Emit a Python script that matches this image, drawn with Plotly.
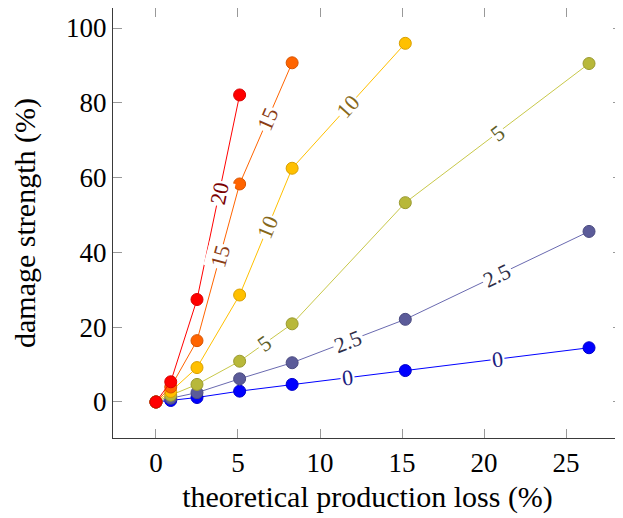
import math
import plotly.graph_objects as go

# ---- data ----
x_loss = [0, 0.9, 2.5, 5.1, 8.3, 15.2, 26.4]
series_names = ["0", "2.5", "5", "10", "15", "20"]
y_0 = [0, 0.4, 1.2, 2.9, 4.7, 8.4, 14.5]
y_2_5 = [0, 1.0, 2.5, 6.2, 10.5, 22.1, 45.6]
y_5 = [0, 1.8, 4.7, 10.9, 20.9, 53.3, 90.5]
y_10 = [0, 2.8, 9.2, 28.6, 62.5, 95.9]
y_15 = [0, 4.0, 16.4, 58.3, 90.7]
y_20 = [0, 5.4, 27.4, 82.1]
label_x = [[11.7, 20.8], [11.7, 20.8], [6.6, 20.8], [6.8, 11.7], [3.9, 6.8], [3.85]]
x_ticks = [0, 5, 10, 15, 20, 25]
y_ticks = [0, 20, 40, 60, 80, 100]

# ---- style ----
line_colors = ["#0000ff", "#6a6ab0", "#c8c84a", "#ffc000", "#ff6400", "#ff0000"]
marker_colors = ["#0000ff", "#5b5b99", "#b8b83a", "#ffc000", "#ff6400", "#ff0000"]
marker_edges = ["#0000cc", "#4a4a80", "#9a9a30", "#d9a000", "#d85400", "#d80000"]
label_colors = ["#1a1a80", "#2e2e48", "#5e5e28", "#86681a", "#8a3c14", "#7a0000"]

OFF = 8  # page body margin
W, H = 623 - OFF, 518 - OFF
ml, mr, mt, mb = 113 - OFF, 1, 8 - OFF, 80
xr = [-2.62, 28.41]
yr = [-9.63, 105.35]
pw = W - ml - mr
ph = H - mt - mb
sx = pw / (xr[1] - xr[0])
sy = ph / (yr[1] - yr[0])

all_y = [y_0, y_2_5, y_5, y_10, y_15, y_20]

fig = go.Figure()
font_family = "'Liberation Serif', 'DejaVu Serif', serif"

for i, ys in enumerate(all_y):
    xs = x_loss[:len(ys)]
    fig.add_trace(go.Scatter(
        x=xs, y=ys, mode="lines+markers",
        line=dict(color=line_colors[i], width=1),
        marker=dict(size=12, color=marker_colors[i],
                    line=dict(color=marker_edges[i], width=1)),
        showlegend=False, hoverinfo="skip", cliponaxis=False))

annotations = []
for i, ys in enumerate(all_y):
    xs = x_loss[:len(ys)]
    for lx in label_x[i]:
        for k in range(len(xs) - 1):
            if xs[k] <= lx <= xs[k + 1]:
                t = (lx - xs[k]) / (xs[k + 1] - xs[k])
                ly = ys[k] + t * (ys[k + 1] - ys[k])
                dxp = (xs[k + 1] - xs[k]) * sx
                dyp = (ys[k + 1] - ys[k]) * sy
                ang = -math.degrees(math.atan2(dyp, dxp))
                annotations.append(dict(
                    x=lx, y=ly, xref="x", yref="y", text=series_names[i],
                    showarrow=False, textangle=ang,
                    font=dict(family=font_family, size=22, color=label_colors[i]),
                    bgcolor="white", borderpad=1))
                break

fig.update_layout(
    width=W, height=H,
    margin=dict(l=ml, r=mr, t=mt, b=mb, autoexpand=False),
    paper_bgcolor="white", plot_bgcolor="white",
    font=dict(family=font_family, size=27, color="black"),
    annotations=annotations,
)
fig.update_xaxes(
    range=xr, tickvals=x_ticks, ticktext=[str(v) for v in x_ticks],
    showgrid=False, zeroline=False, showline=True, linecolor="#3a3a3a", linewidth=1.3,
    mirror="allticks", ticks="inside", ticklen=9, tickcolor="#999999", tickwidth=1,
    tickfont=dict(size=27), automargin=False,
    title=dict(text="theoretical production loss (%)", font=dict(size=30), standoff=9),
)
fig.update_yaxes(
    range=yr, tickvals=y_ticks, ticktext=[str(v) for v in y_ticks],
    showgrid=False, zeroline=False, showline=True, linecolor="#3a3a3a", linewidth=1.3,
    mirror="allticks", ticks="inside", ticklen=9, tickcolor="#999999", tickwidth=1,
    tickfont=dict(size=27), automargin=False,
    title=dict(text="damage strength (%)", font=dict(size=30), standoff=21),
)

fig.write_html("out.html")
